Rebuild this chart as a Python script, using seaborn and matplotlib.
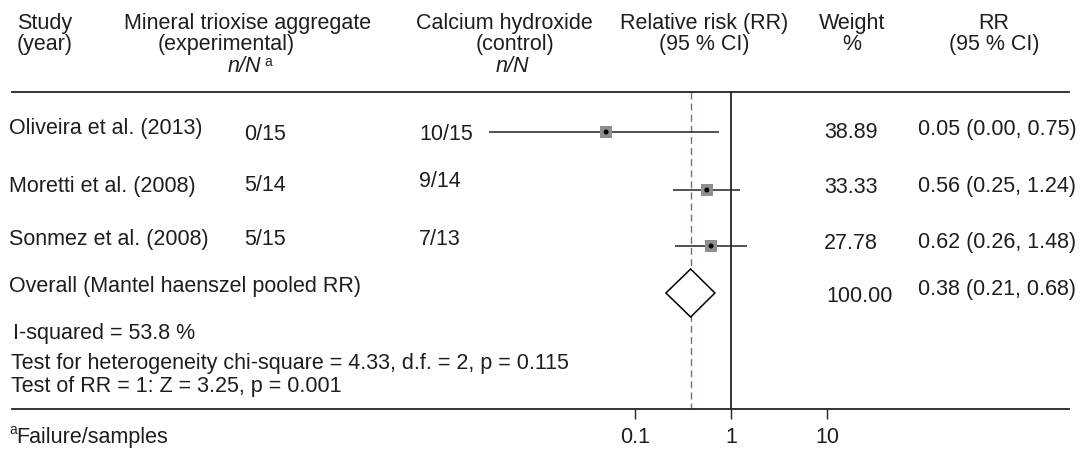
import matplotlib
matplotlib.use("Agg")
import matplotlib.pyplot as plt
import seaborn as sns
import pandas as pd

# ---------------- data ----------------
studies = ["Oliveira et al. (2013)", "Moretti et al. (2008)", "Sonmez et al. (2008)"]
mta_counts = ["0/15", "5/14", "5/15"]
ctrl_counts = ["10/15", "9/14", "7/13"]
rr = [0.05, 0.56, 0.62]
ci_low = [0.003, 0.25, 0.26]        # plotted lower limit (reported as 0.00)
ci_low_txt = ["0.00", "0.25", "0.26"]
ci_high = [0.75, 1.24, 1.48]
weights = [38.89, 33.33, 27.78]

overall_label = "Overall (Mantel haenszel pooled RR)"
pooled_rr = 0.38
pooled_low = 0.21
pooled_high = 0.68
pooled_weight = 100.00

stats_lines = ["I-squared = 53.8 %",
               "Test for heterogeneity chi-square = 4.33, d.f. = 2, p = 0.115",
               "Test of RR = 1: Z = 3.25, p = 0.001"]
x_ticks = [0.1, 1, 10]
x_tick_labels = ["0.1", "1", "10"]
footnote = "Failure/samples"

# ---------------- layout (pixels) ----------------
W, H = 1084, 450
row_y = [132, 190, 246, 293]
top_line, bot_line = 92.5, 408.7
line_x0, line_x1 = 12, 1069
x_one, decade = 731, 96.0

sns.set_theme(style="white")
plt.rcParams["font.family"] = ["Liberation Sans", "DejaVu Sans"]
FS = 15.5
TXT = "#1e1e1e"

fig = plt.figure(figsize=(W / 100, H / 100), dpi=100)
fig.patch.set_facecolor("white")

# forest axes (log scale), spanning the two rules
ax = fig.add_axes([line_x0 / W, (H - bot_line) / H,
                   (line_x1 - line_x0) / W, (bot_line - top_line) / H])
ax.set_xscale("log")
ax.set_xlim(10 ** ((line_x0 - x_one) / decade), 10 ** ((line_x1 - x_one) / decade))
ax.set_ylim(bot_line, top_line)
ax.set_facecolor("none")
for s in ["left", "right"]:
    ax.spines[s].set_visible(False)
for s in ["top", "bottom"]:
    ax.spines[s].set_color("#222222")
    ax.spines[s].set_linewidth(1.3)
ax.set_yticks([])
ax.set_xticks(x_ticks)
ax.set_xticklabels(x_tick_labels)
ax.minorticks_off()
ax.tick_params(axis="x", which="major", direction="out", length=7.5, width=1.0,
               color="#222222", labelsize=FS, labelcolor=TXT, pad=6,
               bottom=True, top=False)
ax.xaxis.set_minor_locator(matplotlib.ticker.NullLocator())

# reference lines
ax.vlines(1, top_line, bot_line, color="black", lw=1.1, zorder=1)
ax.vlines(pooled_rr, top_line, bot_line, color="#b05858", lw=1.0,
          linestyles=(0, (5, 3)), zorder=1)

# confidence intervals
ax.hlines(row_y[:3], ci_low, ci_high, color="#222222", lw=1.1, zorder=2)

# study squares and centre dots
df = pd.DataFrame({"rr": rr, "y": row_y[:3]})
sns.scatterplot(data=df, x="rr", y="y", marker="s", s=72, color="#8f8f8f",
                edgecolor="none", ax=ax, zorder=3, legend=False)
sns.scatterplot(data=df, x="rr", y="y", marker="o", s=13, color="black",
                edgecolor="none", ax=ax, zorder=4, legend=False)
ax.set_xlabel("")
ax.set_ylabel("")

# pooled diamond
yd = row_y[3]
ax.fill([pooled_low, pooled_rr, pooled_high, pooled_rr],
        [yd, yd - 24, yd, yd + 24], facecolor="white", edgecolor="black",
        lw=1.1, zorder=3)

# text overlay axes in pixel coordinates
tx = fig.add_axes([0, 0, 1, 1])
tx.set_xlim(0, W)
tx.set_ylim(H, 0)
tx.axis("off")
tx.patch.set_alpha(0)

def t(x, y, s, ha="left", **kw):
    tx.text(x, y, s, ha=ha, va="baseline", fontsize=kw.pop("fontsize", FS),
            color=TXT, **kw)

# header
t(45, 29, "Study", ha="center")
t(45, 50, "(year)", ha="center")
t(248, 29, "Mineral trioxise aggregate", ha="center")
t(226, 50, "(experimental)", ha="center")
t(228, 72, "n/N", style="italic")
t(264, 66, "a", fontsize=10)
t(504, 29, "Calcium hydroxide", ha="center")
t(515, 50, "(control)", ha="center")
t(512, 72, "n/N", ha="center", style="italic")
t(704, 29, "Relative risk (RR)", ha="center")
t(704, 50, "(95 % CI)", ha="center")
t(852, 29, "Weight", ha="center")
t(852, 50, "%", ha="center")
t(994, 29, "RR", ha="center")
t(994, 50, "(95 % CI)", ha="center")

# rows
name_y = [134, 192, 245]
mta_y = [140, 191, 245]
ctrl_y = [140, 187, 245]
w_y = [138, 193, 249]
r_y = [135, 192, 248]
for i in range(3):
    t(9, name_y[i], studies[i])
    t(244, mta_y[i], mta_counts[i])
    t(419, ctrl_y[i], ctrl_counts[i])
    t(824, w_y[i], f"{weights[i]:.2f}")
    t(918, r_y[i], f"{rr[i]:.2f} ({ci_low_txt[i]}, {ci_high[i]:.2f})")
t(9, 292, overall_label)
t(826, 302, f"{pooled_weight:.2f}")
t(918, 295, f"{pooled_rr:.2f} ({pooled_low:.2f}, {pooled_high:.2f})")

# statistics
t(13, 339, stats_lines[0])
t(11, 369, stats_lines[1])
t(11, 392, stats_lines[2])

# footnote
t(9, 434, "a", fontsize=10)
t(16, 443, footnote)

fig.savefig("out.png", dpi=100, facecolor="white")
